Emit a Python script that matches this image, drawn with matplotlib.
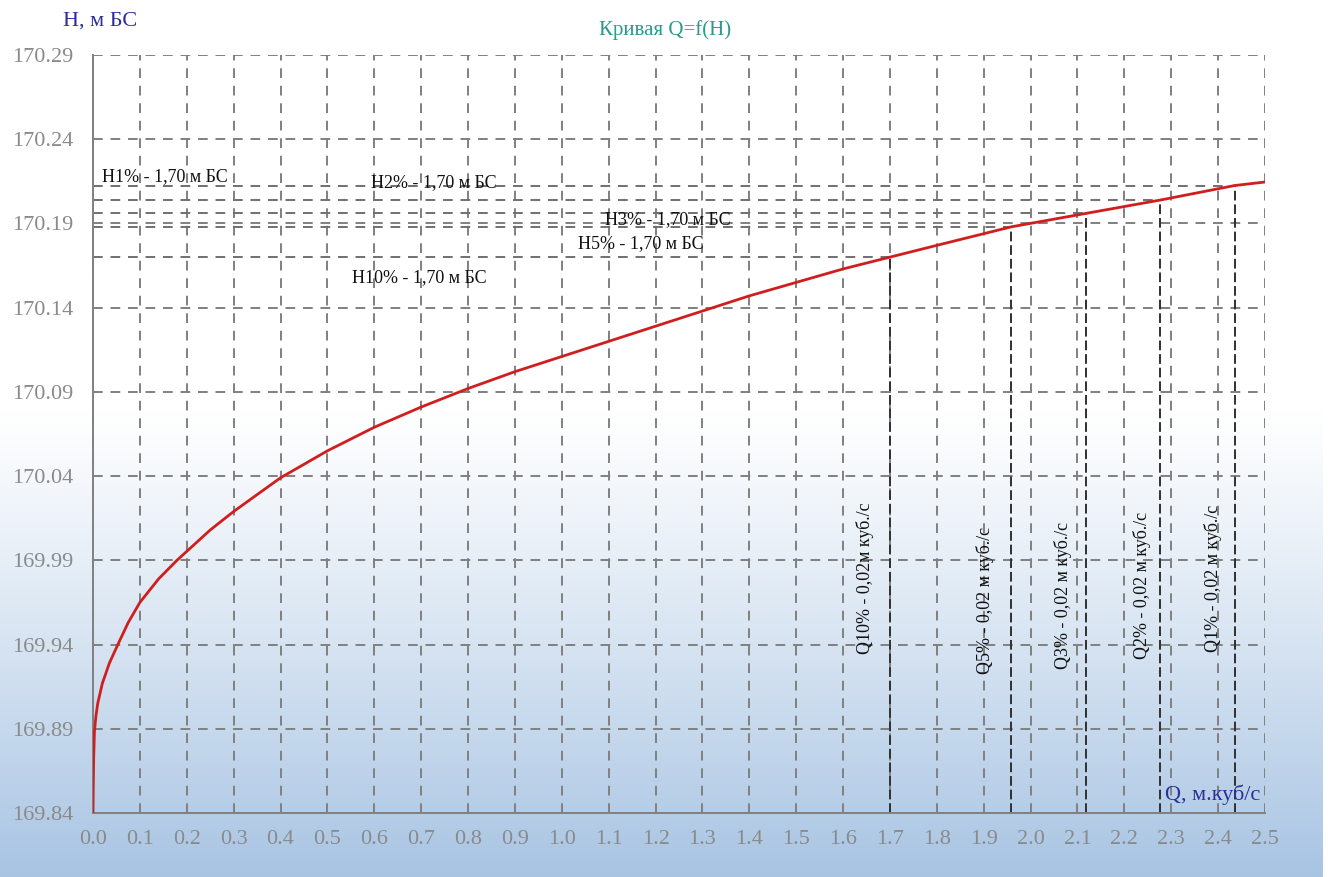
import numpy as np
import matplotlib.pyplot as plt
from matplotlib.ticker import MultipleLocator, FormatStrFormatter

# Кривая расходов Q=f(H)
q_curve = [0.0, 0.0005, 0.0015, 0.003, 0.006, 0.01, 0.02, 0.035, 0.053, 0.075,
           0.1, 0.14, 0.179, 0.25, 0.3, 0.4, 0.5, 0.6, 0.7, 0.8, 0.9, 1.0,
           1.1, 1.2, 1.3, 1.4, 1.5, 1.6, 1.7, 1.8, 1.959, 2.119, 2.277, 2.435, 2.5]
h_curve = [169.84, 169.855, 169.873, 169.888, 169.897, 169.905, 169.917, 169.929,
           169.94, 169.953, 169.965, 169.979, 169.99, 170.008, 170.019, 170.039,
           170.055, 170.069, 170.081, 170.092, 170.102, 170.111, 170.12, 170.129,
           170.138, 170.147, 170.155, 170.163, 170.170, 170.177, 170.188, 170.196,
           170.2039, 170.2125, 170.2146]

# Расчётные уровни и расходы
obesp = ["1%", "2%", "3%", "5%", "10%"]
q_obesp = [2.435, 2.277, 2.119, 1.959, 1.70]
h_obesp = [170.2125, 170.2039, 170.196, 170.188, 170.170]
h_labels = ["H1% - 1,70 м БС", "H2% - 1,70 м БС", "H3% - 1,70 м БС",
            "H5% - 1,70 м БС", "H10% - 1,70 м БС"]
q_labels = ["Q1% - 0,02 м куб./с", "Q2% - 0,02 м куб./с", "Q3% - 0,02 м куб./с",
            "Q5% - 0,02 м куб./с", "Q10% - 0,02м куб./с"]

plt.rcParams['font.family'] = ['Liberation Serif', 'DejaVu Serif']

fig = plt.figure(figsize=(13.3, 8.77), dpi=100)

# фон: белый сверху, голубой снизу
bg = fig.add_axes([0, 0, 1323 / 1330, 1], zorder=-10)
t = np.linspace(0, 1, 400)
grad = np.clip((t - 0.47) / 0.53, 0, 1) ** 1.1
c_top = np.array([1.0, 1.0, 1.0])
c_bot = np.array([0.66, 0.77, 0.89])
img = c_top[None, :] * (1 - grad[:, None]) + c_bot[None, :] * grad[:, None]
bg.imshow(img[:, None, :], aspect='auto', extent=[0, 1, 1, 0])
bg.axis('off')

ax = fig.add_axes([93 / 1330, 1 - 813 / 877, (1265 - 93) / 1330, (813 - 55) / 877])
ax.patch.set_alpha(0)

ax.set_xlim(0, 2.5)
ax.set_ylim(169.84, 170.29)
ax.xaxis.set_major_locator(MultipleLocator(0.1))
ax.xaxis.set_major_formatter(FormatStrFormatter('%.1f'))
ax.yaxis.set_major_formatter(FormatStrFormatter('%.2f'))
ax.set_yticks(np.round(np.arange(169.84, 170.295, 0.05), 2))
ax.tick_params(length=0, labelsize=16, labelcolor='#8a8a8a')
ax.tick_params(axis='y', pad=14)
ax.tick_params(axis='x', pad=12)

ax.grid(True, color='#808080', linestyle=(0, (5, 4)), linewidth=1.4)
for s in ['top', 'right']:
    ax.spines[s].set_visible(False)
for s in ['left', 'bottom']:
    ax.spines[s].set_color('#808080')
    ax.spines[s].set_linewidth(1.4)

# горизонтальные и вертикальные линии уровней
for q, h in zip(q_obesp, h_obesp):
    ax.plot([0, q], [h, h], color='#707070', linestyle=(0, (5, 4)), linewidth=1.4, zorder=2)
    ax.plot([q, q], [169.84, h], color='#303030', linestyle=(0, (5, 2)), linewidth=1.4, zorder=2)

ax.plot(q_curve, h_curve, color='#d01e1e', linewidth=2, zorder=3)

# подписи уровней
h_pos = [(0.019, 170.2176), (0.593, 170.214), (1.092, 170.192), (1.035, 170.178), (0.552, 170.158)]
for txt, (x, y) in zip(h_labels, h_pos):
    ax.text(x, y, txt, fontsize=13, color='#111111', ha='left', va='center')

q_pos = [(2.389, 169.979), (2.238, 169.975), (2.069, 169.969), (1.903, 169.966), (1.647, 169.9795)]
for txt, (x, y) in zip(q_labels, q_pos):
    ax.text(x, y, txt, fontsize=13, color='#111111', ha='center', va='center', rotation=90)

ax.text(2.489, 169.8507, "Q, м.куб/с", fontsize=16, color='#2e2e9a', ha='right', va='center')
fig.text(100 / 1330, 1 - 21 / 877, "H, м БС", fontsize=16, color='#2e2e9a', ha='center', va='center')
fig.text(0.5, 1 - 30 / 877, "Кривая Q=f(H)", fontsize=15, color='#2a9a8a', ha='center', va='center')

plt.savefig("out.png", dpi=100)
